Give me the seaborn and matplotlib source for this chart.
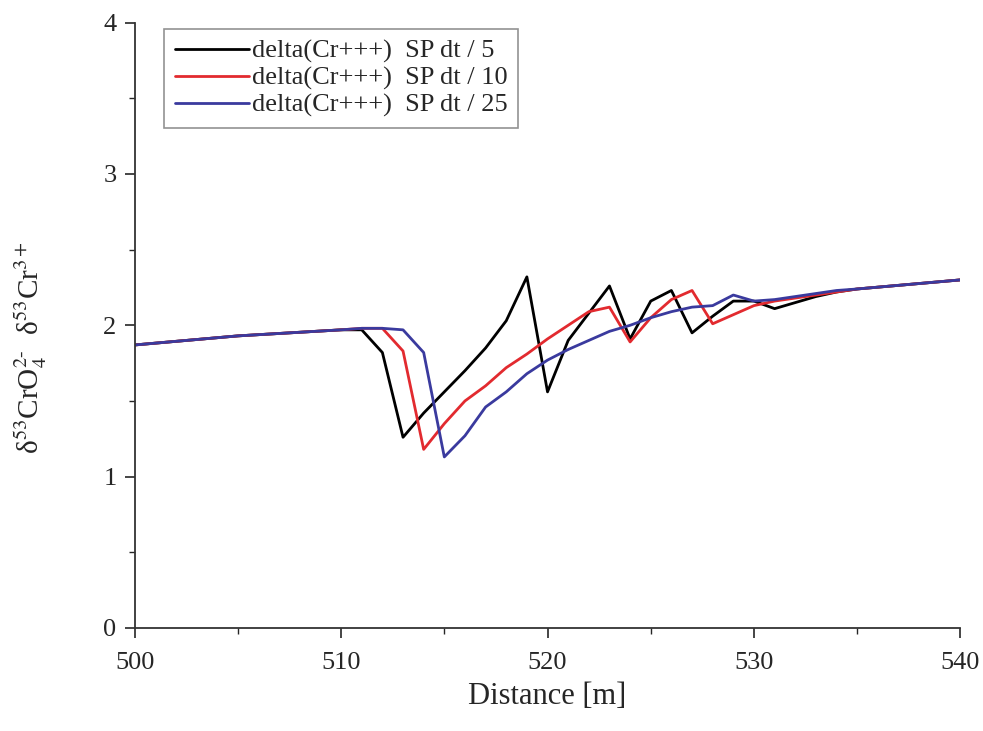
import pandas as pd
import matplotlib
matplotlib.use('Agg')
import matplotlib.pyplot as plt
import seaborn as sns
from matplotlib.ticker import MultipleLocator

sns.set_style('ticks')
plt.rcParams['font.family'] = ['Liberation Serif', 'DejaVu Serif']
plt.rcParams['mathtext.fontset'] = 'stix'

distance = [500, 505, 510, 511, 512, 513, 514, 515, 516, 517, 518, 519, 520,
            521, 522, 523, 524, 525, 526, 527, 528, 529, 530, 531, 532, 533,
            534, 535, 540]

dt5 = [1.87, 1.93, 1.97, 1.97, 1.82, 1.26, 1.42, 1.56, 1.70, 1.85, 2.03, 2.32,
       1.56, 1.90, 2.08, 2.26, 1.91, 2.16, 2.23, 1.95, 2.06, 2.16, 2.16, 2.11,
       2.15, 2.19, 2.22, 2.24, 2.30]
dt10 = [1.87, 1.93, 1.97, 1.98, 1.98, 1.83, 1.18, 1.35, 1.50, 1.60, 1.72, 1.81,
        1.91, 2.00, 2.09, 2.12, 1.89, 2.05, 2.17, 2.23, 2.01, 2.07, 2.13, 2.16,
        2.18, 2.20, 2.22, 2.24, 2.30]
dt25 = [1.87, 1.93, 1.97, 1.98, 1.98, 1.97, 1.82, 1.13, 1.27, 1.46, 1.56, 1.68,
        1.77, 1.84, 1.90, 1.96, 2.00, 2.05, 2.09, 2.12, 2.13, 2.20, 2.16, 2.17,
        2.19, 2.21, 2.23, 2.24, 2.30]

labels = ['delta(Cr+++)  SP dt / 5', 'delta(Cr+++)  SP dt / 10',
          'delta(Cr+++)  SP dt / 25']
colors = ['black', '#e22a2f', '#3a3a9e']

frames = []
for lab, vals in zip(labels, [dt5, dt10, dt25]):
    frames.append(pd.DataFrame({'Distance': distance, 'delta': vals, 'run': lab}))
df = pd.concat(frames, ignore_index=True)

fig = plt.figure(figsize=(9.83, 7.31), dpi=100)
ax = fig.add_axes([0.137, 0.141, 0.840, 0.828])
sns.lineplot(data=df, x='Distance', y='delta', hue='run', palette=colors,
             linewidth=2.0, ax=ax, sort=False)

ax.set_xlim(500, 540)
ax.set_ylim(0, 4)
ax.xaxis.set_major_locator(MultipleLocator(10))
ax.xaxis.set_minor_locator(MultipleLocator(5))
ax.yaxis.set_major_locator(MultipleLocator(1))
ax.yaxis.set_minor_locator(MultipleLocator(0.5))
ax.tick_params(which='major', length=7, width=1.2, labelsize=19, direction='out')
ax.tick_params(axis='x', which='major', pad=10)
ax.tick_params(axis='y', which='major', pad=6)
ax.tick_params(which='minor', length=4, width=1.0, direction='out')
for s in ['top', 'right']:
    ax.spines[s].set_visible(False)
for s in ['left', 'bottom']:
    ax.spines[s].set_linewidth(1.3)
    ax.spines[s].set_color('#333333')

ax.set_xlabel('Distance [m]', fontsize=22, labelpad=6)
ax.set_ylabel('δ$^{53}$CrO$_4^{2\\text{-}}$  δ$^{53}$Cr$^{3+}$', fontsize=21)
ax.yaxis.set_label_coords(-0.104, 0.464)

leg = ax.legend(loc='upper left', bbox_to_anchor=(0.036, 0.99), borderaxespad=0,
                fontsize=19, handlelength=2.8, handletextpad=0.12,
                labelspacing=0.12, borderpad=0.4, fancybox=False, frameon=True,
                title=None)
leg.get_frame().set_edgecolor('#777777')
leg.get_frame().set_linewidth(1.2)

fig.savefig('out.png', dpi=100)
